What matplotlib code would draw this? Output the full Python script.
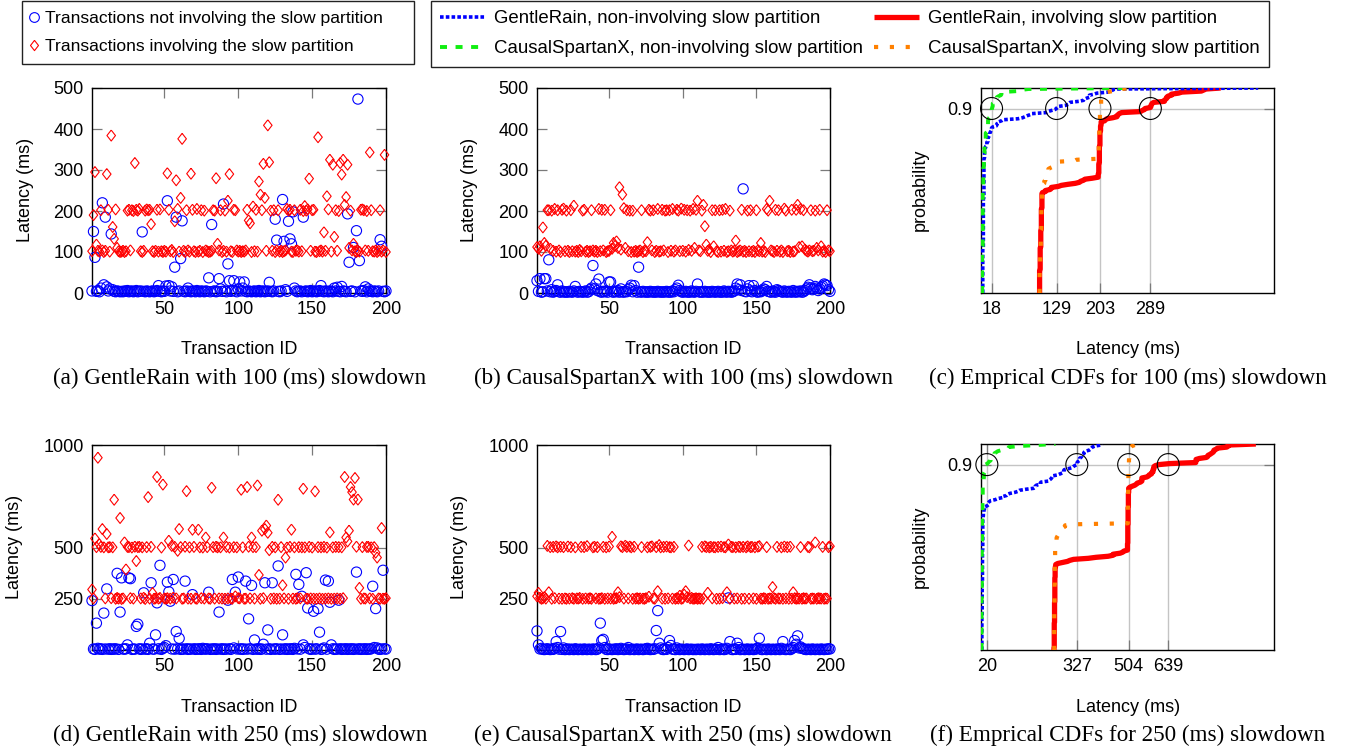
# Latency Scatter Plots & Empirical CDFs For GentleRain vs CausalSpartanX
# ----------------------------------------------------------------------------------------------------------------------
import numpy as np
import matplotlib
matplotlib.use("Agg")
import matplotlib.pyplot as plt
from matplotlib.lines import Line2D
# ----------------------------------------------------------------------------------------------------------------------

# -------------------- Data (Latency In ms, Transaction IDs 1..200) --------------------
txn_ids = np.arange(1, 201)

# GentleRain, 100 ms Slowdown
gr100_out = [5, 150, 87, 4, 6, 3, 12, 220, 20, 185, 15, 5, 10, 144, 8, 4, 3, 5, 4, 3,
             4, 3, 5, 4, 6, 3, 4, 5, 3, 4, 6, 3, 4, 5, 149, 4, 3, 5, 4, 3,
             4, 5, 3, 4, 6, 18, 4, 3, 5, 4, 17, 225, 18, 5, 15, 4, 63, 185, 3, 5,
             84, 176, 4, 3, 5, 12, 4, 3, 5, 4, 3, 6, 4, 3, 5, 4, 3, 5, 4, 37,
             3, 167, 4, 5, 3, 4, 35, 10, 4, 217, 5, 3, 71, 30, 4, 6, 30, 5, 3, 10,
             27, 5, 12, 27, 4, 3, 5, 4, 3, 4, 5, 3, 4, 6, 3, 4, 5, 3, 4, 5,
             26, 4, 3, 5, 180, 129, 4, 3, 5, 228, 126, 8, 4, 175, 132, 120, 198, 12, 5, 3,
             4, 5, 3, 185, 4, 5, 3, 4, 6, 3, 4, 5, 3, 4, 6, 18, 4, 3, 5, 4,
             3, 5, 4, 3, 12, 5, 14, 4, 3, 16, 5, 4, 3, 193, 75, 4, 5, 111, 3, 152,
             473, 79, 5, 4, 6, 15, 3, 10, 5, 4, 3, 5, 4, 3, 5, 130, 114, 4, 3, 5]
gr100_in = [102, 190, 295, 118, 103, 101, 202, 104, 100, 103, 290, 203, 101, 384, 161, 132, 204, 110, 102, 100,
            101, 103, 100, 102, 201, 203, 104, 202, 200, 317, 203, 201, 205, 102, 100, 103, 201, 204, 202, 203,
            168, 102, 100, 103, 203, 101, 204, 102, 100, 103, 101, 292, 203, 102, 105, 100, 175, 275, 205, 101,
            232, 376, 103, 100, 202, 104, 101, 291, 203, 102, 100, 205, 101, 103, 202, 100, 201, 104, 102, 100,
            101, 103, 202, 201, 280, 120, 104, 202, 100, 103, 201, 101, 225, 290, 102, 100, 203, 202, 104, 101,
            103, 100, 102, 101, 104, 203, 177, 170, 100, 211, 102, 203, 101, 272, 240, 202, 315, 232, 103, 409,
            319, 201, 103, 202, 100, 104, 202, 101, 103, 100, 102, 104, 205, 201, 203, 101, 100, 202, 103, 104,
            101, 203, 102, 200, 212, 201, 204, 279, 103, 202, 203, 101, 100, 380, 102, 104, 101, 148, 103, 236,
            204, 325, 101, 313, 137, 202, 103, 200, 317, 289, 325, 215, 234, 313, 110, 201, 104, 120, 102, 100,
            103, 101, 203, 204, 202, 104, 200, 103, 343, 202, 102, 101, 104, 100, 103, 202, 101, 104, 337, 100]

# CausalSpartanX, 100 ms Slowdown
csx100_out = [30, 4, 35, 2, 3, 35, 35, 5, 81, 3, 8, 2, 4, 6, 20, 3, 2, 5, 3, 2,
              3, 2, 4, 3, 2, 5, 16, 3, 2, 4, 3, 2, 3, 5, 2, 3, 8, 12, 67, 10,
              22, 6, 34, 3, 2, 4, 3, 5, 2, 27, 27, 3, 2, 4, 3, 6, 2, 10, 3, 2,
              4, 3, 8, 12, 19, 3, 18, 6, 2, 63, 3, 2, 4, 3, 2, 3, 2, 4, 3, 2,
              3, 2, 4, 3, 2, 3, 2, 3, 4, 2, 3, 2, 5, 3, 8, 12, 19, 6, 3, 2,
              3, 4, 2, 3, 2, 5, 3, 2, 4, 22, 3, 2, 3, 2, 4, 3, 2, 3, 2, 4,
              3, 2, 3, 4, 2, 3, 2, 5, 3, 2, 4, 3, 2, 3, 5, 12, 22, 8, 20, 6,
              254, 4, 3, 10, 18, 5, 3, 18, 6, 3, 2, 4, 3, 6, 10, 8, 16, 4, 3, 2,
              5, 3, 2, 8, 6, 4, 3, 2, 5, 3, 2, 4, 3, 2, 6, 3, 2, 4, 3, 5,
              2, 3, 6, 10, 14, 20, 12, 8, 10, 16, 12, 6, 10, 14, 17, 22, 20, 18, 8, 4]
csx100_in = [112, 108, 114, 103, 160, 122, 115, 202, 202, 108, 201, 103, 205, 101, 202, 104, 100, 203, 206, 102,
             201, 103, 100, 202, 102, 213, 101, 103, 100, 105, 102, 201, 203, 101, 103, 100, 102, 202, 104, 101,
             103, 100, 205, 102, 203, 104, 203, 100, 102, 103, 202, 108, 122, 115, 126, 110, 258, 106, 240, 207,
             110, 202, 102, 201, 100, 201, 101, 103, 100, 102, 104, 202, 100, 103, 102, 124, 203, 201, 104, 202,
             100, 103, 205, 101, 102, 203, 104, 201, 202, 100, 202, 103, 205, 101, 104, 203, 201, 102, 206, 103,
             203, 101, 202, 105, 201, 103, 205, 110, 203, 225, 104, 102, 201, 215, 163, 118, 103, 106, 100, 202,
             114, 202, 102, 100, 202, 101, 203, 103, 205, 100, 102, 201, 104, 101, 103, 128, 100, 102, 104, 203,
             101, 103, 100, 201, 102, 202, 101, 103, 100, 202, 104, 102, 122, 101, 103, 100, 205, 201, 225, 104,
             102, 100, 203, 103, 202, 101, 104, 100, 206, 201, 102, 103, 100, 203, 101, 102, 203, 215, 112, 205,
             114, 202, 106, 103, 101, 104, 202, 102, 103, 201, 110, 104, 203, 114, 101, 103, 100, 202, 104, 102]

# GentleRain, 250 ms Slowdown
gr250_out = [241, 5, 3, 131, 8, 4, 6, 3, 180, 5, 298, 4, 6, 3, 5, 4, 6, 374, 3, 185,
             352, 5, 4, 6, 25, 352, 348, 3, 5, 4, 115, 126, 6, 3, 5, 279, 4, 6, 3, 33,
             328, 5, 4, 74, 230, 6, 413, 3, 8, 12, 21, 331, 284, 238, 5, 344, 4, 90, 6, 57,
             3, 5, 4, 336, 6, 3, 5, 4, 270, 6, 3, 5, 4, 6, 3, 8, 5, 4, 6, 282,
             3, 5, 4, 6, 3, 5, 185, 4, 6, 3, 5, 4, 243, 6, 3, 344, 10, 282, 5, 356,
             4, 6, 3, 5, 336, 4, 152, 6, 315, 3, 49, 5, 4, 6, 3, 5, 28, 328, 4, 98,
             6, 3, 328, 5, 4, 6, 410, 3, 5, 74, 4, 6, 3, 5, 4, 6, 3, 8, 369, 5,
             320, 4, 262, 25, 12, 377, 205, 6, 3, 5, 189, 4, 6, 202, 87, 3, 5, 10, 341, 4,
             336, 233, 25, 6, 3, 5, 4, 243, 6, 3, 5, 4, 6, 3, 5, 4, 6, 3, 5, 380,
             4, 6, 3, 5, 4, 6, 3, 5, 4, 6, 311, 12, 202, 10, 4, 3, 5, 389, 6, 4]
gr250_in = [295, 252, 544, 502, 938, 516, 503, 590, 501, 252, 566, 501, 502, 253, 501, 733, 250, 254, 251, 644,
            249, 252, 525, 393, 503, 502, 253, 500, 251, 504, 434, 502, 503, 252, 501, 255, 249, 502, 746, 251,
            503, 278, 250, 252, 844, 251, 254, 500, 807, 252, 250, 253, 533, 251, 508, 255, 503, 252, 484, 590,
            502, 250, 252, 504, 775, 251, 501, 250, 587, 503, 252, 250, 587, 501, 253, 500, 251, 549, 502, 252,
            250, 792, 502, 251, 504, 501, 252, 501, 251, 549, 250, 503, 252, 500, 251, 250, 502, 262, 501, 253,
            252, 782, 501, 250, 251, 795, 504, 252, 549, 502, 251, 502, 803, 366, 250, 582, 253, 590, 607, 572,
            487, 250, 503, 252, 501, 250, 733, 251, 502, 316, 252, 451, 500, 250, 503, 587, 251, 501, 250, 253,
            502, 252, 501, 787, 501, 251, 250, 503, 252, 500, 251, 774, 250, 502, 252, 501, 250, 503, 251, 500,
            252, 574, 250, 501, 251, 503, 252, 502, 250, 501, 253, 844, 549, 530, 582, 795, 770, 734, 839, 504,
            734, 303, 250, 502, 252, 251, 503, 503, 252, 501, 250, 502, 475, 451, 252, 250, 595, 251, 250, 253]

# CausalSpartanX, 250 ms Slowdown
csx250_out = [93, 25, 5, 8, 3, 2, 4, 6, 3, 2, 5, 3, 8, 41, 12, 4, 90, 3, 10, 2,
              3, 5, 2, 4, 3, 2, 6, 3, 2, 4, 3, 2, 5, 3, 2, 4, 3, 2, 5, 3,
              2, 4, 10, 131, 46, 52, 12, 3, 2, 5, 3, 2, 4, 3, 6, 2, 3, 8, 4, 2,
              3, 5, 12, 2, 3, 4, 2, 3, 5, 2, 3, 4, 2, 3, 6, 8, 3, 2, 4, 3,
              6, 95, 192, 33, 10, 3, 2, 5, 3, 12, 46, 22, 4, 3, 2, 10, 3, 2, 4, 3,
              2, 3, 5, 2, 3, 4, 2, 3, 2, 4, 3, 2, 5, 3, 2, 4, 3, 2, 6, 3,
              2, 4, 3, 12, 2, 3, 5, 2, 3, 8, 254, 41, 3, 2, 5, 3, 33, 12, 2, 3,
              4, 2, 3, 5, 2, 3, 4, 2, 3, 6, 10, 57, 3, 2, 4, 3, 2, 5, 3, 2,
              4, 3, 2, 5, 3, 2, 8, 41, 3, 2, 4, 3, 2, 6, 12, 46, 28, 69, 10, 15,
              8, 6, 3, 2, 4, 3, 2, 5, 3, 2, 4, 3, 2, 5, 3, 2, 4, 3, 6, 5]
csx250_in = [262, 279, 255, 250, 252, 258, 251, 508, 282, 502, 250, 503, 253, 506, 501, 251, 504, 250, 502, 252,
             250, 505, 251, 502, 253, 250, 501, 252, 251, 254, 503, 250, 502, 252, 507, 251, 253, 250, 501, 504,
             252, 502, 250, 251, 253, 503, 250, 501, 252, 505, 251, 552, 250, 252, 253, 282, 258, 506, 502, 251,
             509, 503, 252, 505, 501, 250, 504, 251, 253, 250, 252, 502, 251, 250, 253, 501, 260, 503, 506, 252,
             250, 502, 287, 512, 501, 251, 503, 250, 505, 252, 502, 501, 251, 503, 250, 253, 251, 265, 250, 252,
             270, 287, 258, 510, 252, 255, 250, 251, 253, 250, 252, 251, 503, 250, 506, 502, 279, 501, 504, 252,
             502, 501, 250, 503, 251, 505, 253, 502, 501, 282, 515, 250, 503, 502, 251, 501, 252, 504, 502, 250,
             503, 251, 501, 506, 250, 502, 503, 252, 501, 250, 504, 507, 251, 250, 253, 251, 502, 250, 252, 251,
             307, 253, 250, 503, 252, 251, 501, 250, 505, 252, 502, 250, 504, 251, 282, 253, 250, 252, 251, 502,
             250, 253, 251, 252, 503, 501, 250, 252, 251, 525, 250, 253, 252, 251, 503, 250, 252, 251, 502, 506]

# 90th Percentile Marks Shown On The CDF Axes
p90_ticks_100 = [18, 129, 203, 289]
p90_ticks_250 = [20, 327, 504, 639]

# Panel Captions
captions = ["(a) GentleRain with 100 (ms) slowdown",
            "(b) CausalSpartanX with 100 (ms) slowdown",
            "(c) Emprical CDFs for 100 (ms) slowdown",
            "(d) GentleRain with 250 (ms) slowdown",
            "(e) CausalSpartanX with 250 (ms) slowdown",
            "(f) Emprical CDFs for 250 (ms) slowdown"]
# ----------------------------------------------------------------------------------------------------------------------

plt.rcParams["font.family"] = ["Liberation Sans", "DejaVu Sans"]

W, H = 1346, 753
fig = plt.figure(figsize=(W / 100, H / 100), dpi=100)

# Styles For The CDF Lines (Gnuplot Look)
cdf_styles = {
    "gr_out":  dict(color="#0000ff", lw=2.6, ls=(0, (1, 0.6)), dash_capstyle="butt"),
    "csx_out": dict(color="#11ee11", lw=2.8, ls=(0, (1.8, 2.2)), dash_capstyle="butt"),
    "gr_in":   dict(color="#ff0000", lw=3.8, ls="-", solid_capstyle="butt"),
    "csx_in":  dict(color="#ff8000", lw=3.0, ls=(0, (1, 2.8)), dash_capstyle="butt"),
}

# Tall Diamond Like Gnuplot's Point Type
diamond = [(0, 1), (0.78, 0), (0, -1), (-0.78, 0), (0, 1)]


def px_axes(x0, y0, x1, y1):
    """ Add An Axes Using Pixel Coordinates (Origin Top Left) """
    return fig.add_axes([x0 / W, 1 - y1 / H, (x1 - x0) / W, (y1 - y0) / H])


def style_axes(ax):
    """ Inward, Mirrored Ticks & Thin Black Frame """
    for sp in ax.spines.values():
        sp.set_linewidth(1.0)
        sp.set_color("black")
    ax.tick_params(direction="in", top=True, right=True, length=7, width=0.9,
                   color="#7a7a7a", labelsize=13, pad=6)


def fig_text(x, y, s, **kw):
    fig.text(x / W, 1 - y / H, s, ha="center", va="center", **kw)


def scatter_panel(box, out_vals, in_vals, ymax, yticks):
    ax = px_axes(*box)
    ax.scatter(txn_ids, out_vals, marker="o", s=54, facecolors="none", edgecolors="#0000ff",
               linewidths=0.8, clip_on=False, zorder=3)
    ax.scatter(txn_ids, in_vals, marker=diamond, s=62, facecolors="none", edgecolors="#ff0000",
               linewidths=0.8, clip_on=False, zorder=4)
    ax.set_xlim(1, 200)
    ax.set_ylim(0, ymax)
    ax.set_xticks([50, 100, 150, 200])
    ax.set_yticks(yticks)
    style_axes(ax)
    return ax


def ecdf(vals):
    xs = np.sort(np.asarray(vals, dtype=float))
    ys = np.arange(1, len(xs) + 1) / len(xs)
    return np.r_[xs[0], xs], np.r_[0.0, ys]


def cdf_panel(box, series, xmax, ticks):
    ax = px_axes(*box)
    for key in ["gr_in", "gr_out", "csx_out", "csx_in"]:
        x, y = ecdf(series[key])
        ax.plot(x, y, zorder=3, **cdf_styles[key])
    ax.scatter(ticks, [0.9] * len(ticks), s=250, facecolors="none", edgecolors="black",
               linewidths=0.8, zorder=5, clip_on=False)
    ax.set_xlim(0, xmax)
    ax.set_ylim(0, 1)
    ax.set_xticks(ticks)
    ax.set_yticks([0.9])
    ax.grid(True, color="#c4c4c4", lw=1.0, zorder=0)
    ax.set_axisbelow(True)
    style_axes(ax)
    return ax


# -------------------- Top Row: 100 ms Slowdown --------------------
scatter_panel((92, 88, 386, 293), gr100_out, gr100_in, 500, [0, 100, 200, 300, 400, 500])
scatter_panel((537, 88, 830, 293), csx100_out, csx100_in, 500, [0, 100, 200, 300, 400, 500])
cdf_panel((981, 88, 1274, 293),
          {"gr_out": gr100_out, "gr_in": gr100_in, "csx_out": csx100_out, "csx_in": csx100_in},
          500, p90_ticks_100)

# -------------------- Bottom Row: 250 ms Slowdown --------------------
scatter_panel((92, 445, 386, 650), gr250_out, gr250_in, 1000, [250, 500, 1000])
scatter_panel((537, 445, 830, 650), csx250_out, csx250_in, 1000, [250, 500, 1000])
cdf_panel((981, 444, 1274, 650),
          {"gr_out": gr250_out, "gr_in": gr250_in, "csx_out": csx250_out, "csx_in": csx250_in},
          1000, p90_ticks_250)

# -------------------- Axis Labels & Captions --------------------
for row, (ylab_y, xlab_y, cap_y) in enumerate([(190, 350, 378), (547, 707, 735)]):
    fig_text(25 if row == 0 else 15, ylab_y, "Latency (ms)", rotation=90, fontsize=13)
    fig_text(470 if row == 0 else 460, ylab_y, "Latency (ms)", rotation=90, fontsize=13)
    fig_text(920, ylab_y, "probability", rotation=90, fontsize=13)
    fig_text(239, xlab_y, "Transaction ID", fontsize=13)
    fig_text(683, xlab_y, "Transaction ID", fontsize=13)
    fig_text(1128, xlab_y, "Latency (ms)", fontsize=13)
    for i, cx in enumerate([240, 683, 1128]):
        fig_text(cx, cap_y, captions[row * 3 + i], fontsize=16.7, family="Liberation Serif")

# -------------------- Legends --------------------
leg1_handles = [
    Line2D([0], [0], ls="none", marker="o", ms=7, mfc="none", mec="#0000ff", mew=0.8,
           label="Transactions not involving the slow partition"),
    Line2D([0], [0], ls="none", marker=diamond, ms=7.4, mfc="none", mec="#ff0000", mew=0.8,
           label="Transactions involving the slow partition"),
]
leg1 = fig.legend(handles=leg1_handles, loc="upper left",
                  bbox_to_anchor=(22 / W, 1 - 67 / H, 392 / W, 66 / H),
                  mode="expand", borderaxespad=0, fontsize=12.6, frameon=True, fancybox=False,
                  edgecolor="#222222", framealpha=1, borderpad=0.55, labelspacing=0.74,
                  handlelength=0.3, handletextpad=0.45)
leg1.get_frame().set_linewidth(1.0)

leg2_handles = [
    Line2D([0], [0], label="GentleRain, non-involving slow partition", **cdf_styles["gr_out"]),
    Line2D([0], [0], label="CausalSpartanX, non-involving slow partition", **cdf_styles["csx_out"]),
    Line2D([0], [0], label="GentleRain, involving slow partition", **cdf_styles["gr_in"]),
    Line2D([0], [0], label="CausalSpartanX, involving slow partition", **cdf_styles["csx_in"]),
]
leg2 = fig.legend(handles=leg2_handles, loc="upper left", bbox_to_anchor=(431 / W, 1 - 1 / H),
                  ncol=2, borderaxespad=0, fontsize=13.4, frameon=True, fancybox=False,
                  edgecolor="#222222", framealpha=1, borderpad=0.5, labelspacing=0.7,
                  handlelength=2.4, handletextpad=0.48, columnspacing=0.6)
leg2.get_frame().set_linewidth(1.0)

plt.savefig("out.png", dpi=100)
